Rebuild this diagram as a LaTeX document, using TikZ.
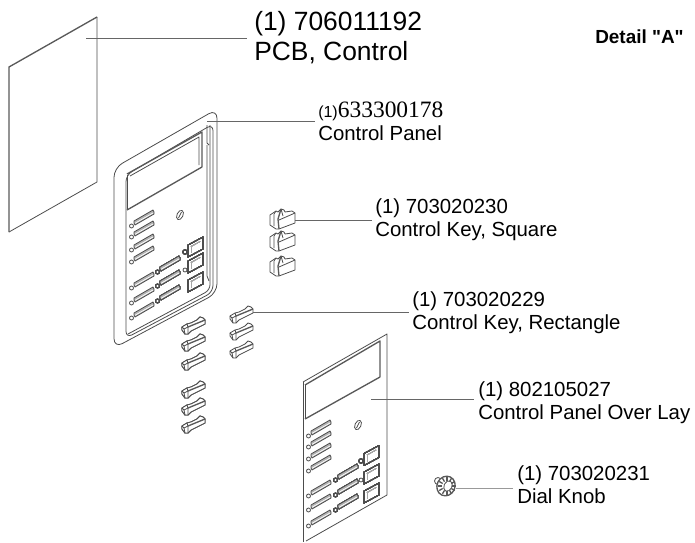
\documentclass[tikz,border=0pt]{standalone}
\usepackage{fontspec}
\setmainfont{Liberation Sans}
\newfontfamily\serialfont{Liberation Serif}
\newfontfamily\detailfont{Liberation Sans}[Ligatures=ResetAll]
\tikzset{
    part/.style={line width=0.6pt, line join=round, color=black!70},
    heavy/.style={line width=1pt, line join=round, color=black!65},
    leader/.style={line width=0.6pt, color=black!60},
    callout/.style={anchor=west, align=left, inner sep=0pt, font=\fontsize{15.3}{17.2}\selectfont},
}
% switch opening with its small lamp hole
\newcommand{\panelslot}[2]{
    \begin{scope}[shift={(#1,#2)}]
        \draw[part, fill=black!30] (-9,3) -- (10,-8) -- (11,-6) -- (11,-4) -- (-8,7) -- (-9,5) -- cycle;
        \draw[color=white, line width=0.5pt] (-8,5.3) -- (10,-5);
        \draw[part] (-11.5,8) circle (2);
    \end{scope}
}
% square opening
\newcommand{\panelsquare}[2]{
    \begin{scope}[shift={(#1,#2)}]
        \draw[part] (-7.5,-2) -- (7.5,-10) -- (7.5,2) -- (-7.5,10) -- cycle;
        \draw[line width=0.4pt, color=black!35] (-4.5,-0.5) -- (4.5,-5.5);
        \draw[line width=0.4pt, color=black!35] (-4.5,-0.5) -- (-4.5,6);
    \end{scope}
}
% rectangular key
\newcommand{\rectkey}[2]{
    \begin{scope}[shift={(#1,#2)}]
        \draw[part, fill=white] (-12,1) -- (-7,-2) -- (-3,-3) -- (3,-6) -- (6,-9) -- (9,-8) -- (11,-6) -- (11,-2) -- (-3,5) -- (-6,8) -- (-9,8) -- (-12,4) -- cycle;
        \draw[part] (-7,-2) -- (-6,1) -- (-6,8);
        \draw[part] (-12,1) -- (-10,3) -- (-9,8);
        \draw[part] (-10,3) -- (-6,1);
        \draw[heavy] (-6,1) -- (11,-6);
    \end{scope}
}
% square key
\newcommand{\squarekey}[2]{
    \begin{scope}[shift={(#1,#2)}]
        \draw[part, fill=white] (-12,-5) -- (-6,-9) -- (-4,-8) -- (-1,-11) -- (2,-10) -- (3,-8) -- (10,-9) -- (13,-7) -- (13,3) -- (-3,9) -- (-6,9) -- (-12,5) -- cycle;
        \draw[part] (-6,-9) -- (-8,-6) -- (-8,6);
        \draw[heavy] (-4,-1) -- (-3,9);
        \draw[heavy] (-4,-1) -- (-1,-11);
        \draw[part] (-3,0) -- (13,-7);
        \draw[part] (-1,-11) -- (1,-4);
    \end{scope}
}
\begin{document}
\begin{tikzpicture}[x=0.75pt, y=-0.75pt]
    \useasboundingbox (0,0) rectangle (695,542);

    % PCB
    \draw[part] (97,17) -- (97,182) -- (9,232);
    \draw[heavy] (9,232) -- (9,67) -- (97,17);
    \coordinate (pcbend) at (86,38);

    % Control panel, outer and inner edge
    \draw[part, rounded corners=7pt] (217,109) -- (217,293) -- (114,348) -- (114,168) -- cycle;
    \draw[part, rounded corners=5pt] (213,124) -- (213,292) -- (126,338) -- (126,175) -- cycle;
    \draw[part, rounded corners=4pt] (210,125) -- (210,290) -- (128,334);
    \draw[part] (207,125) -- (207,143) -- (209,145);
    \draw[part] (207,145) -- (207,276) -- (209,281);
    \draw[heavy] (127,174) -- (202,132) -- (202,167);
    \draw[part] (127,175) -- (127,210);
    \draw[heavy] (127,210) -- (202,167);
    \draw[part] (130,176) -- (199,137) -- (199,165);
    \draw[part, rotate around={65:(180,215)}] (180,215) ellipse (5 and 3);
    \draw[part] (178.5,218) -- (181.5,212);
    \coordinate (panelend) at (207,121);
    \foreach \y in {218,229,242,254,280,295,310}
        \panelslot{143}{\y}
    \foreach \y in {264,278,293}
        \panelslot{169}{\y}
    \foreach \y in {247,263,282}
        \panelsquare{195.5}{\y}
    \draw[part] (185,252) circle (2);
    \draw[part] (185,270) circle (2);

    % Keys
    \foreach \y in {267,242,220}
        \squarekey{282}{\y}
    \coordinate (squareend) at (295,220);
    \foreach \y in {350,332,315}
        \rectkey{242}{\y}
    \foreach \y in {425,407,390,362,343,326}
        \rectkey{194}{\y}
    \coordinate (rectend) at (253,312);

    % Over lay
    \draw[part] (303,382) -- (387,334) -- (387,495) -- (306,541);
    \draw[part] (303,382) -- (303,542);
    \draw[heavy] (305,385) -- (380,341) -- (380,377);
    \draw[part] (305,385) -- (305,419);
    \draw[heavy] (305,419) -- (380,377);
    \foreach \y in {428,439,451,463,488,502,518}
        \panelslot{320}{\y}
    \foreach \y in {472,487,502}
        \panelslot{347}{\y}
    \foreach \y in {455.5,474,493}
        \panelsquare{371.5}{\y}
    \draw[part] (361,461) circle (2);
    \draw[part] (361,480) circle (2);
    \draw[part, rotate around={65:(358,425)}] (358,425) ellipse (5 and 3);
    \draw[part] (356.5,428) -- (359.5,422);
    \coordinate (overlayend) at (371,399);

    % Dial knob
    \draw[part] (438,481) circle (3.5);
    \draw[heavy, fill=white, rotate around={-25:(446,486)}] (446,486) ellipse (9 and 10);
    \draw[part, rotate around={-25:(448,486)}] (448,486) ellipse (4 and 5.5);
    \foreach \a in {0,30,...,330}
        \draw[heavy] (447,486) ++(\a:5) -- ++(\a:4);
    \coordinate (knobend) at (456,488);

    % Labels
    \node[callout, font=\fontsize{19.8}{22.4}\selectfont] (pcblabel) at (254,38) {(1) 706011192\\PCB, Control};
    \node[callout] (panellabel) at (318,121) {{\fontsize{12}{17.2}\selectfont(1)}{\serialfont\fontsize{17.6}{17.2}\selectfont 633300178}\\Control Panel};
    \node[callout] (squarelabel) at (375,220) {(1) 703020230\\Control Key, Square};
    \node[callout] (rectlabel) at (412,313) {(1) 703020229\\Control Key, Rectangle};
    \node[callout] (overlaylabel) at (478,403) {(1) 802105027\\Control Panel Over Lay};
    \node[callout] (knoblabel) at (517,485) {(1) 703020231\\Dial Knob};
    \node[inner sep=0pt, font=\detailfont\bfseries\fontsize{14.2}{16}\selectfont] (detaillabel) at (639.5,37) {Detail "A"};

    % Leaders
    \draw[leader] (pcbend) -- ([xshift=-5pt]pcblabel.west |- pcbend);
    \draw[leader] (panelend) -- ([xshift=-2pt]panellabel.west |- panelend);
    \draw[leader] (squareend) -- ([xshift=-2pt]squarelabel.west |- squareend);
    \draw[leader] (rectend) -- ([xshift=-2pt]rectlabel.west |- rectend);
    \draw[leader] (overlayend) -- ([xshift=-3pt]overlaylabel.west |- overlayend);
    \draw[leader, color=black!40] (knobend) -- ([xshift=-3pt]knoblabel.west |- knobend);
\end{tikzpicture}
\end{document}
